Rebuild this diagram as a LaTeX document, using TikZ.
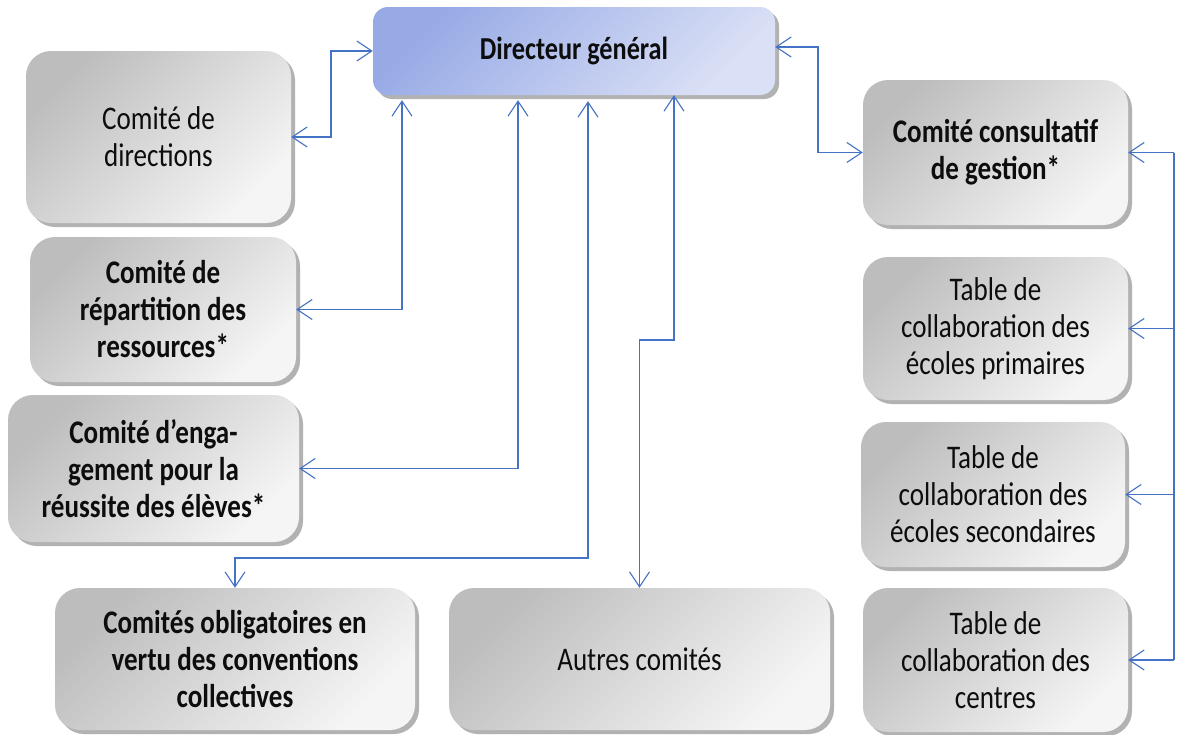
\documentclass[tikz,border=0pt]{standalone}
\usepackage{fontspec}
\setmainfont{Carlito}[FakeStretch=0.82]
\usetikzlibrary{arrows.meta,shadows}
\definecolor{lineblue}{HTML}{4472C4}
\definecolor{graydark}{HTML}{BDBDBD}
\definecolor{graylight}{HTML}{F5F5F5}
\definecolor{bluedark}{HTML}{97AAE6}
\definecolor{bluelight}{HTML}{DAE0F5}
\definecolor{txt}{HTML}{0D0D0D}
\tikzset{
  graybox/.style={rectangle, rounded corners=25pt, inner sep=0pt, align=center,
    shading=axis, top color=graydark, bottom color=graylight, shading angle=45,
    drop shadow={shadow xshift=4pt, shadow yshift=-4pt, opacity=0.3, fill=black},
    text=txt, font=\fontsize{33}{37}\selectfont},
  bluebox/.style={rectangle, rounded corners=15pt, inner sep=0pt, align=center,
    shading=axis, top color=bluedark, bottom color=bluelight, shading angle=45,
    drop shadow={shadow xshift=4pt, shadow yshift=-4pt, opacity=0.3, fill=black},
    text=txt, font=\bfseries\fontsize{32}{36}\selectfont},
  boldtxt/.style={font=\bfseries\fontsize{33}{37}\selectfont},
  conn/.style={draw=lineblue, line width=1.1pt,
    arrows={Straight Barb[length=15pt,width=20pt,line width=1.1pt]-Straight Barb[length=15pt,width=20pt,line width=1.1pt]}},
  conn1/.style={draw=lineblue, line width=1.1pt,
    arrows={-Straight Barb[length=15pt,width=20pt,line width=1.1pt]}},
  bus/.style={draw=lineblue, line width=1.1pt}
}
\begin{document}
\begin{tikzpicture}[x=1pt,y=-1pt]
\useasboundingbox (0,0) rectangle (1178,734);
\node[bluebox, minimum width=402pt, minimum height=88pt] (dg) at (574,51) {Directeur général};
\node[graybox, minimum width=265pt, minimum height=172pt] (cd) at (158.5,137) {Comité de\\directions};
\node[graybox, boldtxt, minimum width=266pt, minimum height=145pt] (crr) at (163,309.5) {Comité de\\répartition des\\ressources*};
\node[graybox, boldtxt, minimum width=291pt, minimum height=147pt] (ce) at (153.5,468.5) {Comité d’enga-\\gement pour la\\réussite des élèves*};
\node[graybox, boldtxt, minimum width=360pt, minimum height=142pt] (co) at (235,659) {Comités obligatoires en\\vertu des conventions\\collectives};
\node[graybox, minimum width=381pt, minimum height=142pt] (ac) at (639.5,659) {Autres comités};
\node[graybox, boldtxt, minimum width=265pt, minimum height=145pt] (ccg) at (995.5,152.5) {Comité consultatif\\de gestion*};
\node[graybox, minimum width=265pt, minimum height=143pt] (tp) at (995.5,328.5) {Table de\\collaboration des\\écoles primaires};
\node[graybox, minimum width=264pt, minimum height=145pt] (ts) at (993,494.5) {Table de\\collaboration des\\écoles secondaires};
\node[graybox, minimum width=265pt, minimum height=144pt] (tc) at (995.5,660) {Table de\\collaboration des\\centres};
% connectors
\draw[conn] (cd.east) -- (cd.east -| 331,0) |- (dg.west);
\draw[conn, shorten <=5pt] (dg.south -| 402,0) |- (crr.east);
\draw[conn, shorten <=5pt] (dg.south -| 518,0) |- (ce.east);
\draw[conn, shorten <=6pt] (dg.south -| 588,0) -- (588,558) -| (co.north);
\draw[conn] (dg.south -| 674,0) |- (ac.north |- 0,340) -- (ac.north);
\draw[conn] (dg.east |- 0,47) -| (818,152.5) -- (ccg.west);
\coordinate (bt) at (1174,152.5);
\coordinate (bb) at (1174,660);
\draw[bus] (bt) -- (bb);
\draw[conn1] (ccg.east -| bt) -- (ccg.east);
\draw[conn1] (tp.east -| bt) -- (tp.east);
\draw[conn1] (ts.east -| bt) -- (ts.east);
\draw[conn1] (tc.east -| bt) -- (tc.east);
\end{tikzpicture}
\end{document}
